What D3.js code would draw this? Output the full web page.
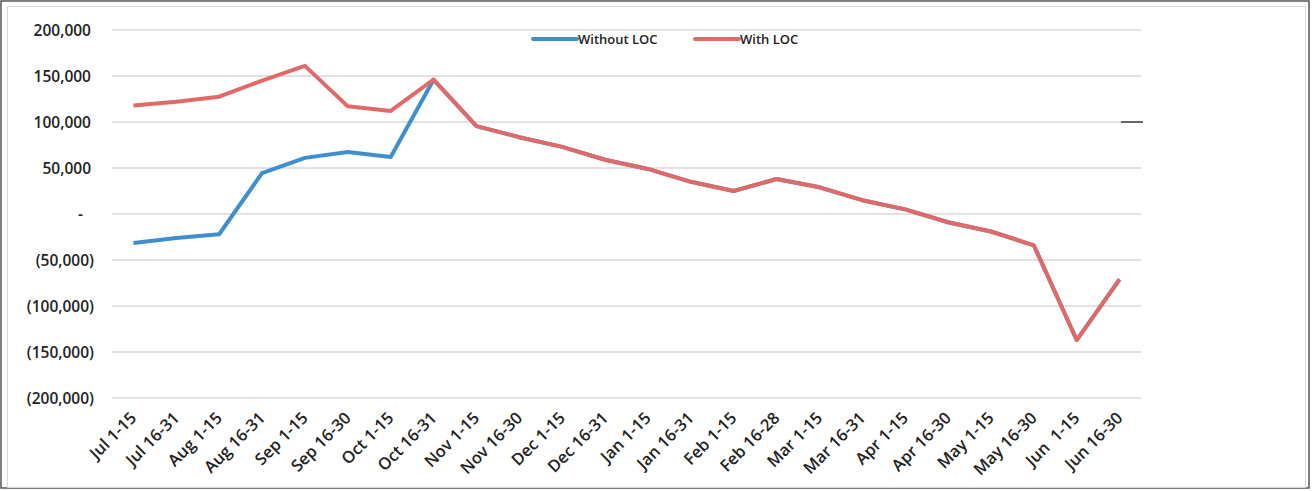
<!DOCTYPE html>
<html><head><meta charset="utf-8">
<script src="https://cdn.jsdelivr.net/npm/d3@7"></script>
<style>
html,body{margin:0;padding:0;background:#fff;}
svg{display:block;}
text{font-family:"Open Sans","Liberation Sans",Arial,sans-serif;}
</style></head>
<body><svg id="c" width="1312" height="491"></svg>
<script>
const categories = ["Jul 1-15","Jul 16-31","Aug 1-15","Aug 16-31","Sep 1-15","Sep 16-30","Oct 1-15","Oct 16-31","Nov 1-15","Nov 16-30","Dec 1-15","Dec 16-31","Jan 1-15","Jan 16-31","Feb 1-15","Feb 16-28","Mar 1-15","Mar 16-31","Apr 1-15","Apr 16-30","May 1-15","May 16-30","Jun  1-15","Jun 16-30"];
const withLOC = [118000,122000,127500,145000,161000,117000,112000,146000,95500,83500,73000,59000,49000,35000,25000,38000,29000,15000,5000,-9000,-19000,-34000,-137000,-71000];
const withoutLOC = [-31500,-26000,-22000,44500,61000,67500,62000,146000,95500,83500,73000,59000,49000,35000,25000,38000,29000,15000,5000,-9000,-19000,-34000,-137000,-71000];
const yTicks = [200000,150000,100000,50000,0,-50000,-100000,-150000,-200000];
const seriesNames = ["Without LOC","With LOC"];
const seriesColors = ["#3f8fcf","#e06a68"];

(function(){
const svg = d3.select("#c");
// frame
svg.append("rect").attr("x",1).attr("y",1).attr("width",1308).attr("height",487)
  .attr("fill","none").attr("stroke","#555").attr("stroke-width",1.5);
svg.append("rect").attr("x",7.5).attr("y",6.5).attr("width",1298).attr("height",481)
  .attr("fill","none").attr("stroke","#d6d6d6").attr("stroke-width",1);

const pL = 112, pR = 1141, pT = 30, pB = 398;
const x = d3.scaleBand().domain(categories).range([pL, pR]);
const y = d3.scaleLinear().domain([-200000,200000]).range([pB, pT]);

// gridlines
svg.append("g").selectAll("line").data(yTicks).join("line")
  .attr("x1",pL).attr("x2",pR).attr("y1",d=>y(d)).attr("y2",d=>y(d))
  .attr("stroke","#d9d9d9").attr("stroke-width",1.5);

// y labels
const fmt = d3.format(",");
svg.append("g").selectAll("text").data(yTicks).join("text")
  .attr("x",d=> d<0 ? 94 : (d===0 ? 83 : 91))
  .attr("y",d=>y(d)+5.5)
  .attr("text-anchor","end")
  .attr("font-size",15.5).attr("font-weight",600).attr("fill","#222")
  .text(d=> d===0 ? "-" : (d<0 ? "("+fmt(-d)+")" : fmt(d)));

// x labels
svg.append("g").selectAll("text").data(categories).join("text")
  .attr("transform",d=>`translate(${x(d)+x.bandwidth()/2+4},${419}) rotate(-45)`)
  .attr("text-anchor","end")
  .attr("font-size",16.5).attr("font-weight",600).attr("fill","#222")
  .attr("xml:space","preserve")
  .text(d=>d);

// lines
const line = d3.line().x((d,i)=>x(categories[i])+x.bandwidth()/2).y(d=>y(d));
svg.append("path").datum(withoutLOC).attr("d",line).attr("fill","none")
  .attr("stroke",seriesColors[0]).attr("stroke-width",4).attr("stroke-linejoin","round");
svg.append("path").datum(withLOC).attr("d",line).attr("fill","none")
  .attr("stroke",seriesColors[1]).attr("stroke-width",4).attr("stroke-linejoin","round");

// legend
const leg = [{x:533},{x:695}];
seriesNames.forEach((n,i)=>{
  svg.append("line").attr("x1",leg[i].x).attr("x2",leg[i].x+44).attr("y1",39).attr("y2",39)
    .attr("stroke",seriesColors[i]).attr("stroke-width",4).attr("stroke-linecap","round");
  svg.append("text").attr("x",leg[i].x+45).attr("y",44).attr("font-size",13)
    .attr("font-weight",600).attr("fill","#222").text(n);
});

// stray mark at right
svg.append("line").attr("x1",1121).attr("x2",1143).attr("y1",y(100000)).attr("y2",y(100000))
  .attr("stroke","#666").attr("stroke-width",2);
})();
</script></body></html>
